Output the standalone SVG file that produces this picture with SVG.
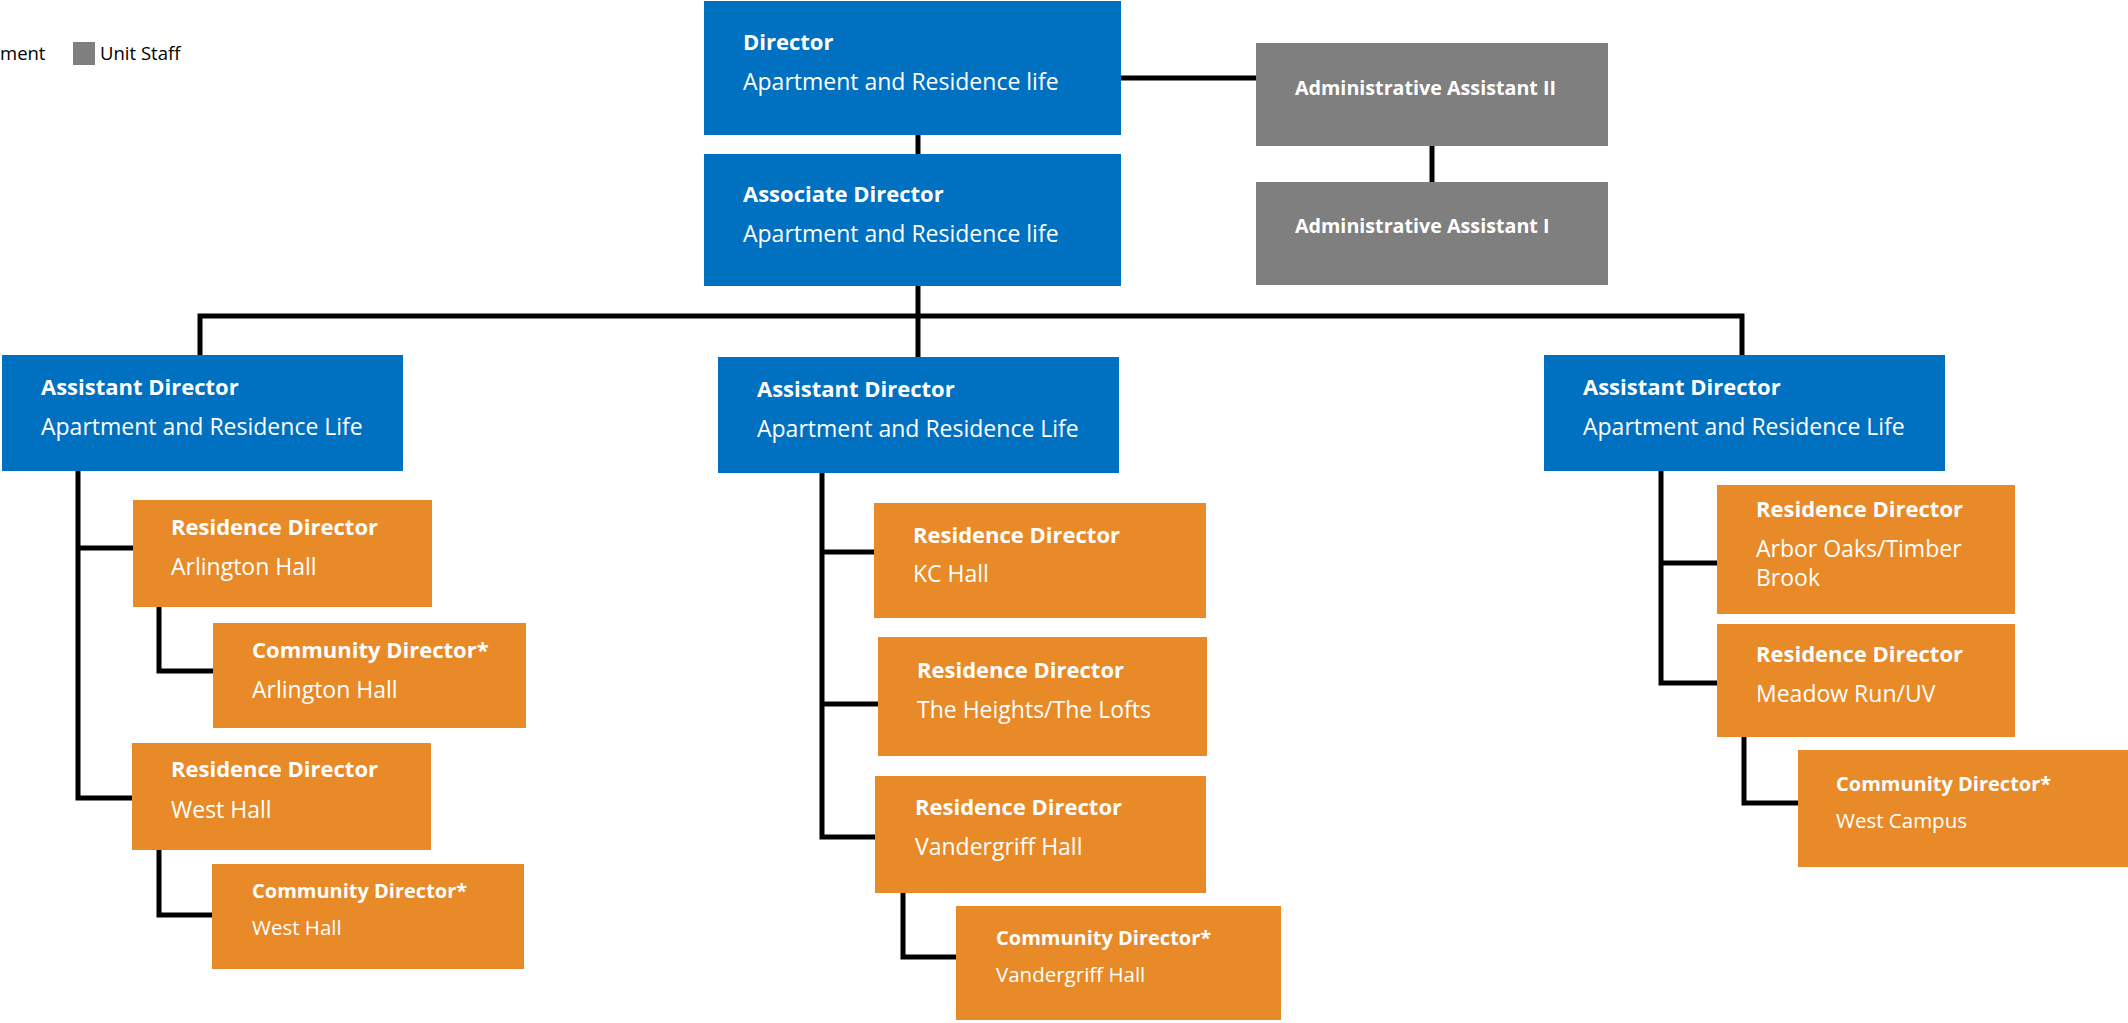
<svg xmlns="http://www.w3.org/2000/svg" width="2128" height="1023" viewBox="0 0 2128 1023">
<style>
.blue{fill:#0070C0}
.orange{fill:#E98A29}
.grey{fill:#7F7F7F}
text{font-family:"Open Sans","Noto Sans","Liberation Sans",sans-serif;fill:#fff}
.t23{font-size:23px}
.h22{font-size:22px;font-weight:bold}
.t20{font-size:20.5px}
.h20{font-size:20px;font-weight:bold}
.adm{font-size:19.7px;font-weight:bold}
.leg{fill:#000;font-size:18.5px}
.conn{stroke:#000;stroke-width:5;fill:none;stroke-linejoin:miter;stroke-linecap:butt}
</style>
<rect width="2128" height="1023" fill="#fff"/>
<g id="legend">
<text class="leg" x="0" y="60">ment</text>
<rect class="grey" x="73" y="42" width="22" height="23"/>
<text class="leg" x="100" y="60">Unit Staff</text>
</g>
<g id="connectors">
<path class="conn" d="M918 135V154"/>
<path class="conn" d="M1121 78H1256"/>
<path class="conn" d="M1432 146V182"/>
<path class="conn" d="M918 286V357"/>
<path class="conn" d="M200 355V316H1742V355"/>
<path class="conn" d="M78 471V798H132"/>
<path class="conn" d="M78 548H133"/>
<path class="conn" d="M159 607V671H213"/>
<path class="conn" d="M159 850V915H212"/>
<path class="conn" d="M822 473V837H875"/>
<path class="conn" d="M822 552H874"/>
<path class="conn" d="M822 704H878"/>
<path class="conn" d="M903 893V957H956"/>
<path class="conn" d="M1661 471V683H1717"/>
<path class="conn" d="M1661 563H1717"/>
<path class="conn" d="M1744 737V803H1798"/>
</g>
<g id="director">
<rect class="blue" x="704" y="1" width="417" height="134"/>
<text class="h22" x="743" y="50">Director</text>
<text class="t23" x="743" y="90">Apartment and Residence life</text>
</g>
<g id="associate-director">
<rect class="blue" x="704" y="154" width="417" height="132"/>
<text class="h22" x="743" y="202">Associate Director</text>
<text class="t23" x="743" y="242">Apartment and Residence life</text>
</g>
<g id="admin-assistant-2">
<rect class="grey" x="1256" y="43" width="352" height="103"/>
<text class="adm" x="1295" y="95">Administrative Assistant II</text>
</g>
<g id="admin-assistant-1">
<rect class="grey" x="1256" y="182" width="352" height="103"/>
<text class="adm" x="1295" y="233">Administrative Assistant I</text>
</g>
<g id="assistant-director-1">
<rect class="blue" x="2" y="355" width="401" height="116"/>
<text class="h22" x="41" y="395">Assistant Director</text>
<text class="t23" x="41" y="435">Apartment and Residence Life</text>
</g>
<g id="assistant-director-2">
<rect class="blue" x="718" y="357" width="401" height="116"/>
<text class="h22" x="757" y="397">Assistant Director</text>
<text class="t23" x="757" y="437">Apartment and Residence Life</text>
</g>
<g id="assistant-director-3">
<rect class="blue" x="1544" y="355" width="401" height="116"/>
<text class="h22" x="1583" y="395">Assistant Director</text>
<text class="t23" x="1583" y="435">Apartment and Residence Life</text>
</g>
<g id="rd-arlington">
<rect class="orange" x="133" y="500" width="299" height="107"/>
<text class="h22" x="171" y="535">Residence Director</text>
<text class="t23" x="171" y="575">Arlington Hall</text>
</g>
<g id="cd-arlington">
<rect class="orange" x="213" y="623" width="313" height="105"/>
<text class="h22" x="252" y="658">Community Director*</text>
<text class="t23" x="252" y="698">Arlington Hall</text>
</g>
<g id="rd-west-hall">
<rect class="orange" x="132" y="743" width="299" height="107"/>
<text class="h22" x="171" y="777">Residence Director</text>
<text class="t23" x="171" y="818">West Hall</text>
</g>
<g id="cd-west-hall">
<rect class="orange" x="212" y="864" width="312" height="105"/>
<text class="h20" x="252" y="898">Community Director*</text>
<text class="t20" x="252" y="935">West Hall</text>
</g>
<g id="rd-kc">
<rect class="orange" x="874" y="503" width="332" height="115"/>
<text class="h22" x="913" y="543">Residence Director</text>
<text class="t23" x="913" y="582">KC Hall</text>
</g>
<g id="rd-heights">
<rect class="orange" x="878" y="637" width="329" height="119"/>
<text class="h22" x="917" y="678">Residence Director</text>
<text class="t23" x="917" y="718">The Heights/The Lofts</text>
</g>
<g id="rd-vandergriff">
<rect class="orange" x="875" y="776" width="331" height="117"/>
<text class="h22" x="915" y="815">Residence Director</text>
<text class="t23" x="915" y="855">Vandergriff Hall</text>
</g>
<g id="cd-vandergriff">
<rect class="orange" x="956" y="906" width="325" height="114"/>
<text class="h20" x="996" y="945">Community Director*</text>
<text class="t20" x="996" y="982">Vandergriff Hall</text>
</g>
<g id="rd-arbor-oaks">
<rect class="orange" x="1717" y="485" width="298" height="129"/>
<text class="h22" x="1756" y="517">Residence Director</text>
<text class="t23" x="1756" y="557">Arbor Oaks/Timber</text>
<text class="t23" x="1756" y="586">Brook</text>
</g>
<g id="rd-meadow-run">
<rect class="orange" x="1717" y="624" width="298" height="113"/>
<text class="h22" x="1756" y="662">Residence Director</text>
<text class="t23" x="1756" y="702">Meadow Run/UV</text>
</g>
<g id="cd-west-campus">
<rect class="orange" x="1798" y="750" width="340" height="117"/>
<text class="h20" x="1836" y="791">Community Director*</text>
<text class="t20" x="1836" y="828">West Campus</text>
</g>
</svg>
